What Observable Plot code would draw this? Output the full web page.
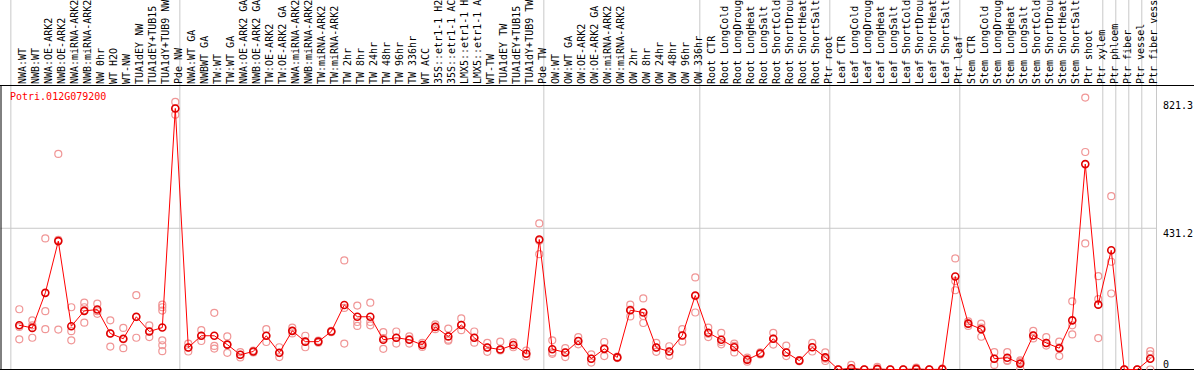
<!DOCTYPE html>
<html>
<head>
<meta charset="utf-8">
<script src="https://cdn.jsdelivr.net/npm/d3@7"></script>
<script src="https://cdn.jsdelivr.net/npm/@observablehq/plot@0.6"></script>
<style>
  html, body { margin: 0; padding: 0; background: white; }
</style>
</head>
<body>
<div id="chart"></div>
<script>
const geneId = "Potri.012G079200";

const categories = [
  "NWA:WT","NWB:WT","NWA:OE-ARK2","NWB:OE-ARK2","NWA:miRNA-ARK2","NWB:miRNA-ARK2","NW 0hr","WT H2O","WT-NW","TUA1dEY NW","TUA1dEY+TUB15","TUA1dY+TUB9 NW","Pde NW",
  "NWA:WT GA","NWBWT GA","TW:WT","TW:WT GA","NWA:OE-ARK2 GA","NWB:OE-ARK2 GA","TW:OE-ARK2","TW:OE-ARK2 GA","NWA:miRNA-ARK2","NWB:miRNA-ARK2","TW:miRNA-ARK2","TW:miRNA-ARK2","TW 2hr","TW 8hr","TW 24hr","TW 48hr","TW 96hr","TW 336hr","WT ACC","35S::etr1-1 H2O","35S::etr1-1 ACC","LMX5::etr1-1 H2O","LMX5::etr1-1 ACC","WT-TW","TUA1dEY TW","TUA1dEY+TUB15","TUA1dY+TUB9 TW","Pde TW",
  "OW:WT","OW:WT GA","OW:OE-ARK2","OW:OE-ARK2 GA","OW:miRNA-ARK2","OW:miRNA-ARK2","OW 2hr","OW 8hr","OW 24hr","OW 48hr","OW 96hr","OW 336hr",
  "Root CTR","Root LongCold","Root LongDrought","Root LongHeat","Root LongSalt","Root ShortCold","Root ShortDrought","Root ShortHeat","Root ShortSalt","Ptr root",
  "Leaf CTR","Leaf LongCold","Leaf LongDrought","Leaf LongHeat","Leaf LongSalt","Leaf ShortCold","Leaf ShortDrought","Leaf ShortHeat","Leaf ShortSalt","Ptr leaf",
  "Stem CTR","Stem LongCold","Stem LongDrought","Stem LongHeat","Stem LongSalt","Stem ShortCold","Stem ShortDrought","Stem ShortHeat","Stem ShortSalt","Ptr shoot","Ptr xylem",
  "Ptr phloem","Ptr fiber","Ptr vessel","Ptr fiber vessel"
];

// index of the first category of each group (separator lines)
const groupStarts = [0, 13, 41, 53, 63, 73, 84, 85, 86, 87];

const means = [
  135,127,234,392,132,179,183,110,94,161,116,128,797,
  67,103,103,76,45,55,103,51,118,85,85,116,197,161,161,91,97,91,75,130,101,136,97,67,61,75,48,397,
  62,52,87,33,63,37,181,174,67,55,104,226,
  112,91,68,30,49,94,52,27,68,37,
  0,4,0,2,0,0,2,0,1,284,
  140,123,33,36,18,104,81,65,150,627,198,
  364,0,0,33
];

const replicates = [
  [184,130,92],[150,135,97],[400,178,123],[658,396,122],[190,117,89],[204,190,143],[201,178,170],[150,110,70],[127,92,65],[227,160,97],[135,116,99],[198,190,180,89,74,56],[817,797,778],
  [79,67,55],[120,103,87],[173,72,64],[101,76,51],[53,45,37],[58,55,52],[123,103,84],[68,50,38],[128,118,110],[103,85,68],[88,85,82],[118,116,114],[333,188,79],[195,145,133],[204,145,135],[114,96,63],[116,97,79],[101,93,79],[81,75,69],[138,130,123],[125,91,88],[156,136,120],[116,97,82],[81,67,54],[85,61,58],[83,75,68],[58,48,40],[446,393,352],
  [89,52,48],[65,52,38],[99,87,77],[46,33,21],[84,64,41],[39,37,35],[198,183,162],[217,163,142],[81,67,54],[71,55,42],[123,104,85],[281,224,174],
  [128,109,99],[112,84,77],[79,72,52],[36,30,24],[52,49,46],[112,94,76],[73,52,41],[29,27,25],[81,68,55],[52,33,26],
  [0,0,0],[14,0,0],[0,0,0],[8,0,0],[0,0,0],[0,0,0],[6,0,0],[0,0,0],[3,0,0],[339,270,242],
  [147,140,133],[140,128,100],[53,33,14],[53,28,26],[28,24,2],[118,104,95],[99,81,73],[85,68,41],[208,135,107],[830,664,385],[285,215,96],
  [529,329,232],[0,0,0],[0,0,0],[56,46,0]
];

const yTicks = [821.3, 431.2];
const yZeroTick = [0];

const xDomain = [-1.408, 87.48];
const yDomain = [0, 867];

const meanRows = means.map((v, i) => ({i, v}));
const repRows = replicates.flatMap((arr, i) => arr.map(v => ({i, v})));
const seps = groupStarts.map(s => s - 0.65).concat([xDomain[1]]);

const chart = Plot.plot({
  width: 1194,
  height: 370,
  marginTop: 85,
  marginBottom: 1,
  marginLeft: 0.5,
  marginRight: 38,
  x: {domain: xDomain, axis: null},
  y: {domain: yDomain, axis: null},
  style: {fontFamily: "'DejaVu Sans Mono', monospace", fontSize: "10px", background: "white"},
  marks: [
    Plot.ruleY([431.2], {stroke: "#c8c8c8"}),
    Plot.ruleX(seps, {x: d => d, stroke: "#c8c8c8", insetTop: -86}),
    Plot.ruleY([yDomain[0]], {stroke: "black", insetLeft: -1, insetRight: -38}),
    Plot.ruleY([yDomain[1]], {stroke: "black", insetLeft: -1, insetRight: -38}),
    Plot.ruleX([xDomain[0]], {stroke: "black"}),
    Plot.dot(repRows, {x: "i", y: "v", r: 3.5, stroke: "#f09696", strokeWidth: 1.2}),
    Plot.line(meanRows, {x: "i", y: "v", stroke: "#ff0000", strokeWidth: 1}),
    Plot.dot(meanRows, {x: "i", y: "v", r: 3.5, stroke: "#e00000", strokeWidth: 1.6}),
    Plot.text(categories, {x: (d, i) => i, text: d => d, frameAnchor: "top", rotate: -90, textAnchor: "start", dy: -1.5, dx: -0.5, fill: "black"}),
    Plot.text(yTicks, {y: d => d, text: d => String(d), frameAnchor: "right", textAnchor: "start", lineAnchor: "top", dx: 6.5, dy: 1.5, fill: "black"}),
    Plot.text(yZeroTick, {y: d => d, text: d => String(d), frameAnchor: "right", textAnchor: "start", lineAnchor: "bottom", dx: 6.5, dy: -2, fill: "black"}),
    Plot.text([geneId], {text: d => d, frameAnchor: "top-left", textAnchor: "start", lineAnchor: "top", dx: 9, dy: 7, fill: "#ff0000"})
  ]
});
document.getElementById("chart").appendChild(chart);
</script>
</body>
</html>
